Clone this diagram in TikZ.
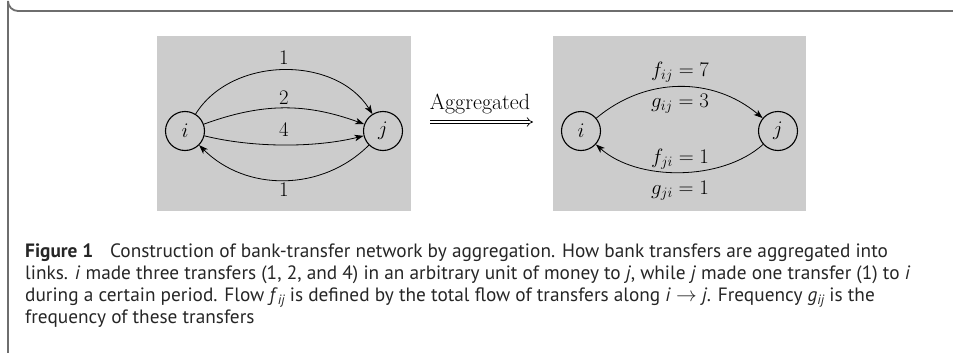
\documentclass[tikz,border=0pt]{standalone}
\usepackage{fontspec}
\setsansfont{PT Sans}
\usetikzlibrary{arrows.meta}
\newcommand{\capfont}{\fontsize{19.3}{22}\sffamily\color{black!85}}
\newcommand{\capsub}[2]{\textit{#1}\raisebox{-0.35ex}{\fontsize{13.5}{14}\selectfont\itshape #2}}
\tikzset{
  vert/.style={circle, draw, line width=1.1pt, minimum size=39pt, inner sep=0pt, font=\fontsize{20}{24}\selectfont},
  lab/.style={font=\fontsize{20}{24}\selectfont, inner sep=0pt},
  edge/.style={line width=0.8pt, -{Stealth[length=9pt,width=6.5pt,inset=2.5pt]}},
  panel/.style={fill=black!20, draw=none},
  capbox/.style={anchor=base west, inner sep=0pt, align=left, font=\capfont},
  frame/.style={draw=black!57, line width=1.8pt}
}
\begin{document}
\begin{tikzpicture}[x=1pt,y=-1pt]
\useasboundingbox (0,0) rectangle (953,353);
\draw[frame] (953,11) -- (18,11) arc[start angle=90, end angle=180, radius=10] -- (8,353);
% panels
\fill[panel] (157,36) rectangle (411,211);
\fill[panel] (553,36) rectangle (806,211);
% left graph
\node[vert] (i1) at (185,131) {$i$};
\node[vert] (j1) at (383,131) {$j$};
\draw[edge] (i1) to[out=58,in=122] (j1);
\draw[edge] (i1) to[out=20,in=160] (j1);
\draw[edge] (i1) to[out=-14,in=-166,looseness=0.8] (j1);
\draw[edge] (j1) to[out=-135,in=-45] (i1);
\node[lab] (l1) at (284,58) {$1$};
\node[lab] (l2) at (284,98) {$2$};
\node[lab] (l4) at (284,130) {$4$};
\node[lab] (l5) at (284,190) {$1$};
% arrow
\node[lab, anchor=base, font=\fontsize{22}{26}\selectfont] (agg) at (480,110) {Aggregated};
\coordinate (a0) at (430,122);
\coordinate (a1) at (533,122);
\draw[double, double distance=2.6pt, line width=0.7pt, -{Implies}] (a0) -- (a1);
% right graph
\node[vert] (i2) at (581,131) {$i$};
\node[vert] (j2) at (778,131) {$j$};
\draw[edge] (i2) to[out=40,in=140] (j2);
\draw[edge] (j2) to[out=-138,in=-42,looseness=0.85] (i2);
\node[lab] (r1) at (680,72) {$f_{ij}=7$};
\node[lab] (r2) at (680,104) {$g_{ij}=3$};
\node[lab] (r3) at (680,159) {$f_{ji}=1$};
\node[lab] (r4) at (680,191) {$g_{ji}=1$};
% caption
\node[capbox] (cap) at (25,323) {\textbf{Figure 1}\hspace{0.6em} Construction of bank-transfer network by aggregation. How bank transfers are aggregated into\\
links. \textit{i} made three transfers (1, 2, and 4) in an arbitrary unit of money to \textit{j}, while \textit{j} made one transfer (1) to \textit{i}\\
during a certain period. Flow \capsub{f}{ij} is defined by the total flow of transfers along \textit{i} $\rightarrow$ \textit{j}. Frequency \capsub{g}{ij} is the\\
frequency of these transfers};
\end{tikzpicture}
\end{document}
